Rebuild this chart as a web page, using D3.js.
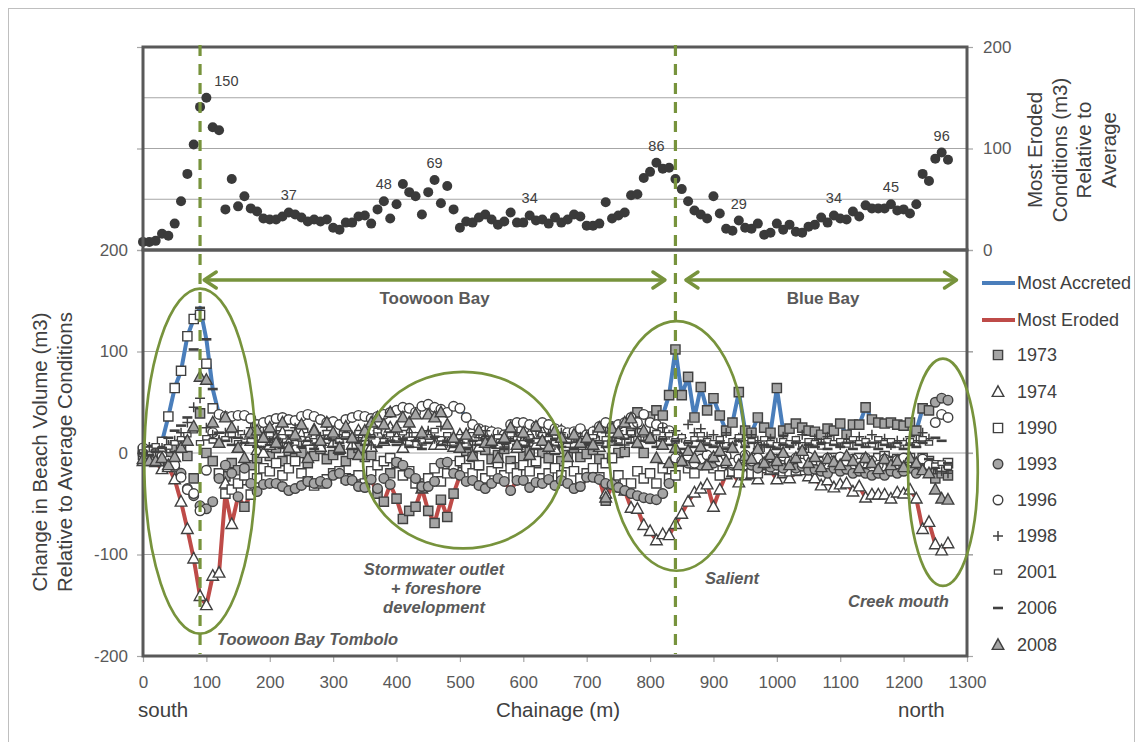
<!DOCTYPE html>
<html>
<head>
<meta charset="utf-8">
<script src="https://cdn.jsdelivr.net/npm/d3@7"></script>
<style>
  body { margin: 0; background: #fff; }
  svg { display: block; font-family: "Liberation Sans", Arial, sans-serif; }
</style>
</head>
<body>
<svg id="chart" width="1139" height="742"></svg>
<script>
// Survey stations along the beach, every 10 m from the south end
const chainage = d3.range(0, 1280, 10);

// Most eroded condition at each station (m3, magnitude relative to average)
const mostEroded = [
  8, 8, 9, 16, 14, 26, 48, 75, 104, 141,
  150, 121, 118, 40, 70, 43, 53, 41, 38, 31,
  30, 30, 33, 37, 35, 32, 28, 30, 28, 30,
  22, 20, 27, 27, 33, 34, 26, 40, 48, 31,
  45, 65, 57, 53, 35, 57, 69, 46, 63, 40,
  22, 28, 27, 32, 35, 30, 25, 28, 37, 27,
  27, 34, 29, 30, 26, 32, 27, 30, 35, 33,
  24, 24, 26, 47, 31, 34, 37, 54, 55, 71,
  77, 86, 80, 81, 70, 60, 48, 39, 35, 31,
  53, 36, 21, 19, 29, 22, 21, 26, 15, 17,
  26, 20, 25, 18, 17, 23, 25, 32, 27, 34,
  31, 30, 38, 33, 44, 41, 41, 41, 45, 39,
  40, 36, 45, 75, 68, 90, 96, 89
];

// Most accreted condition at each station (m3 relative to average)
const mostAccreted = [
  5, 6, 7, 11, 36, 64, 81, 115, 132, 143,
  112, 63, 38, 36, 36, 37, 37, 34, 28, 30,
  32, 34, 35, 33, 32, 36, 38, 36, 33, 30,
  31, 28, 33, 35, 37, 36, 34, 36, 38, 40,
  42, 45, 44, 40, 46, 48, 45, 43, 40, 46,
  44, 35, 28, 24, 22, 21, 20, 18, 28, 30,
  30, 28, 26, 30, 28, 24, 22, 20, 21, 24,
  18, 21, 26, 30, 26, 28, 30, 35, 40, 38,
  36, 42, 37, 57, 102, 57, 75, 35, 65, 42,
  54, 37, 22, 30, 60, 22, 20, 35, 25, 20,
  64, 22, 24, 29, 25, 22, 21, 18, 24, 22,
  29, 18, 28, 28, 45, 33, 30, 29, 30, 28,
  27, 30, 22, 44, 42, 50, 54, 52
];

// Change in beach volume per survey year (m3 relative to average)
const y1973 = [
  2, 3, 1, 0, -4, 6, 8, -3, -25, 39,
  0, -8, -20, -23, -10, -17, -53, -12, -5, 2,
  -3, 5, -8, 2, -5, 0, -10, -3, 4, -6,
  -2, 3, -8, -1, 5, -4, -2, -40, -48, -20,
  -45, -65, -57, -53, -30, -57, -69, -46, -63, -40,
  -10, 2, -4, -12, 3, -6, -2, 4, -8, -14,
  -3, 2, -10, 0, -5, 3, -8, -2, 5, -4,
  -1, 3, -6, -47, 12, 0, 1, 20, 40, 0,
  36, 42, 37, 57, 102, 57, 75, 35, 65, 42,
  54, 37, 22, 30, 60, 22, 20, 35, 25, 20,
  64, 22, 24, 29, 25, 22, 21, 18, 24, 22,
  29, 18, 28, 28, 45, 33, 30, 29, 30, 28,
  27, 30, 22, 44, 42, -25, -20, -22
];
const y1974 = [
  -8, -5, -9, -16, -14, -26, -48, -75, -104, -141,
  -150, -121, -118, -30, -70, 5, -27, 12, 3, 0,
  8, 15, 20, 10, 5, 18, 12, 23, 6, 14,
  10, 4, 18, 8, 22, 14, 6, 20, 12, 25,
  15, 5, 20, 10, -35, 18, 8, 8, 12, 6,
  18, 10, 24, 6, 15, 20, 9, 14, 22, 5,
  12, 18, 8, 20, 15, 4, 22, 10, 16, 8,
  14, 20, 6, -40, -31, -34, -37, -54, -55, -71,
  -77, -86, -80, -81, -70, -60, -48, -39, -35, -31,
  -53, -36, -21, -19, -29, -22, -21, -26, -15, -17,
  -26, -20, -25, -18, -17, -23, -25, -32, -27, -34,
  -31, -30, -38, -33, -44, -41, -41, -41, -45, -39,
  -40, -36, -45, -75, -68, -90, -96, -89
];
const y1990 = [
  -2, 1, 3, 11, 36, 64, 81, 115, 132, 136,
  88, 44, -20, -40, -36, -30, -22, -41, -25, -15,
  -18, -10, -22, -15, -8, -20, -28, -32, -30, -26,
  -20, -18, -25, -26, -22, -30, -18, -12, -8, -5,
  -10, -22, -18, -30, -34, -25, -15, -28, -20, -12,
  -8, -15, -20, -12, -25, -18, -10, -22, -15, -20,
  -12, -18, -8, -25, -20, -15, -22, -10, -18, -25,
  -20, -15, -24, -10, -5, -22, -30, -30, -18, -25,
  -20, -30, -15, -25, -22, -8, -15, -20, -10, -12,
  -15, -22, -10, -18, -20, -12, -20, -20, -12, -16,
  -15, -18, -18, -17, -12, -10, -15, -8, -12, -5,
  -10, -8, -12, -5, -10, -8, -5, -3, -8, -6,
  -10, -5, -12, -5, -8, -12, -15, -10
];
const y1993 = [
  0, -3, -5, -8, -10, -14, -20, -35, -42, -52,
  -55, -48, -25, -12, -20, -43, -15, -30, -38, -31,
  -30, -30, -33, -37, -35, -32, -28, -30, -28, -30,
  -22, -20, -27, -27, -33, -34, -26, -35, -25, -31,
  -9, -12, -20, -25, -33, -33, -28, -10, -9, -20,
  -22, -28, -27, -32, -35, -30, -25, -28, -37, -27,
  -27, -34, -29, -30, -26, -32, -27, -30, -35, -33,
  -24, -24, -26, -30, -31, -34, -37, -40, -42, -44,
  -45, -46, -40, -30, -9, -5, -10, -8, -12, -6,
  -10, -8, -5, -12, -10, -8, -12, -15, -10, -14,
  -12, -15, -10, -15, -13, -17, -16, -18, -20, -15,
  -18, -16, -20, -18, -20, -22, -20, -22, -18, -20,
  -18, -15, -20, -15, -18, 50, 54, 52
];
const y1996 = [
  5, 2, 0, -3, -8, -12, -24, -36, -40, -57,
  -17, 20, 38, 36, 36, 37, 37, 34, 28, 30,
  32, 34, 35, 33, 32, 36, 38, 36, 33, 30,
  31, 28, 33, 35, 37, 36, 34, 36, 38, 40,
  42, 45, 44, 40, 46, 48, 45, 43, 40, 46,
  44, 35, 28, 24, 22, 21, 20, 18, 28, 30,
  30, 28, 26, 30, 28, 24, 22, 20, 21, 24,
  18, 21, 26, 30, 26, 28, 30, 35, 30, 38,
  30, 28, 25, 22, -5, -8, -3, -10, -6, -2,
  -5, -8, -3, -10, -6, -2, -8, -5, -10, -4,
  -6, -3, -8, -5, -10, -4, -7, -9, -5, -8,
  -4, -8, -6, -10, -5, -8, -12, -6, -9, -7,
  -5, -8, -10, -6, -12, 30, 38, 35
];
const y1998 = [
  2, 6, 3, 5, 8, 12, 20, 30, 45, 54,
  25, 18, 13, 20, 15, 22, 18, 25, 12, 20,
  14, 22, 10, 18, 25, 12, 20, 8, 16, 22,
  12, 18, 24, 10, 15, 20, 8, 22, 14, 18,
  25, 12, 20, 16, 8, 22, 14, 26, 10, 18,
  12, 20, 8, 15, 22, 10, 18, 6, 14, 20,
  16, 10, 22, 12, 18, 8, 20, 14, 14, 16,
  10, 18, 12, 20, 15, 22, 8, 16, 24, 18,
  20, 12, 25, 18, 22, 15, 28, 20, 24, 16,
  18, 12, 20, 8, 15, 10, 18, 12, 6, 14,
  10, 16, 8, 12, 18, 6, 14, 10, 16, 12,
  8, 14, 10, 16, 12, 18, 10, 14, 8, 12,
  10, 16, 12, 20, 14, -15, -18, -20
];
const y2001 = [
  1, -1, 7, 4, 6, 10, 14, 18, 22, 10,
  15, 12, 8, 14, 18, 10, 16, 12, 20, 14,
  18, 12, 16, 20, 10, 14, 18, 12, 15, 20,
  16, 12, 18, 14, 20, 10, 16, 22, 12, 18,
  14, 20, 10, 18, 12, 16, 22, 14, 18, 10,
  16, 12, 18, 10, 14, 8, 16, 12, 18, 14,
  10, 16, 12, 18, 14, 10, 16, 12, 8, 14,
  12, 16, 10, 14, 18, 12, 16, 20, 14, 18,
  16, 20, 14, 18, 12, 16, 10, 14, 18, 12,
  10, 14, 8, 12, 16, 10, 12, 8, 14, 10,
  8, 12, 10, 14, 8, 12, 10, 6, 12, 10,
  12, 8, 14, 10, 12, 8, 14, 10, 12, 8,
  10, 12, 8, 14, 10, -12, -10, -14
];
const y2006 = [
  0, -2, 1, 5, 15, 22, 27, 35, 102, 143,
  112, 63, 20, 12, 8, 15, 10, 18, 6, 12,
  8, 14, 5, 10, 16, 6, 12, 4, 10, 14,
  6, 10, 14, 4, 12, 8, 16, 6, 10, 12,
  8, 14, 6, 12, 4, 10, 16, 8, 12, 6,
  10, 4, 12, 8, 14, 6, 10, 4, 12, 8,
  6, 12, 4, 10, 8, 14, 6, 10, 4, 12,
  8, 4, 10, 6, 12, 8, 14, 10, 6, 12,
  10, 6, 14, 8, 12, 4, 10, 6, 12, 8,
  6, 10, 4, 8, 12, 6, 10, 4, 8, 6,
  4, 8, 6, 10, 4, 8, 6, 10, 4, 8,
  6, 10, 4, 8, 6, 10, 4, 8, 6, 10,
  4, 8, 6, 10, -6, 15, 12, -10
];
const y2008 = [
  -6, -8, -8, -5, -12, -4, 5, 12, 26, 75,
  72, 30, 10, 35, 25, 5, -5, 20, 22, 15,
  25, 10, 30, 5, 18, 28, -5, 22, 12, 30,
  20, 5, 26, 15, -2, 22, 30, 35, 28, 40,
  25, 35, 30, 38, 20, 38, 35, 40, 28, 15,
  5, 18, -3, 22, 10, 12, -5, 15, 25, 8,
  20, -2, 26, 12, 6, 22, 15, -4, 18, 10,
  15, 8, 25, -44, 24, 20, 30, 34, 10, 22,
  15, -5, 8, -10, 5, -8, 2, -5, 6, -12,
  -4, 2, -8, 5, -12, -3, -6, 4, -10, -2,
  -8, 0, -12, -5, 2, -10, -4, -14, -6, -9,
  -12, -3, -8, -15, -5, -10, -16, -6, -12, -8,
  -14, -5, -10, -17, -20, -36, -45, -46
];

// Stations whose most-eroded value is printed in the upper panel
const labelledStations = [100, 230, 380, 460, 610, 810, 940, 1090, 1180, 1260];

// Axis ticks
const xTicks = [0, 100, 200, 300, 400, 500, 600, 700, 800, 900, 1000, 1100, 1200, 1300];
const lowerTicks = [-200, -100, 0, 100, 200];
const upperTicks = [0, 100, 200];
const upperGrid = [50, 100, 150];
const lowerGrid = [-100, 0, 100];

// Coastal features: boundary chainages and annotated zones (chainage / volume units)
const boundaries = [90, 840];
const bays = [
  { name: "Toowoon Bay", from: 95, to: 825, mid: 460 },
  { name: "Blue Bay", from: 855, to: 1285, mid: 1073 }
];
const zones = [
  { c: 90, v: -8, rc: 88, rv: 170 },
  { c: 505, v: -7, rc: 158, rv: 87 },
  { c: 842, v: 7, rc: 107, rv: 123 },
  { c: 1262, v: -19, rc: 55, rv: 112 }
];

// ---------------------------------------------------------------
const svg = d3.select("#chart");
const GREEN = "#77933c", FRAME = "#595959", GRID = "#a6a6a6", TXT = "#595959";
const MK = "#404040", GREY = "#a5a5a5";
const plain = d => String(d).replace("\u2212", "-");

const x = d3.scaleLinear().domain([0, 1300]).range([143, 967]);
const yTop = d3.scaleLinear().domain([0, 200]).range([250, 47]);
const yBot = d3.scaleLinear().domain([-200, 200]).range([656, 250]);

// outer figure border
svg.append("rect").attr("x", 8.5).attr("y", 8.5).attr("width", 1126).attr("height", 760)
  .attr("fill", "none").attr("stroke", "#bfbfbf").attr("stroke-width", 1);

// gridlines
svg.append("g").selectAll("line").data(upperGrid).join("line")
  .attr("x1", x(0)).attr("x2", x(1300))
  .attr("y1", d => yTop(d)).attr("y2", d => yTop(d))
  .attr("stroke", GRID).attr("stroke-width", 1.2);
svg.append("g").selectAll("line").data(lowerGrid).join("line")
  .attr("x1", x(0)).attr("x2", x(1300) + 6)
  .attr("y1", d => yBot(d)).attr("y2", d => yBot(d))
  .attr("stroke", GRID).attr("stroke-width", 1.2);

// axes
const axX = d3.axisBottom(x).tickValues(xTicks).tickSize(6).tickFormat(plain);
const gx = svg.append("g").attr("transform", `translate(0,${yBot(-200)})`).call(axX);
const axL = d3.axisLeft(yBot).tickValues(lowerTicks).tickSize(6).tickFormat(plain);
const gl = svg.append("g").attr("transform", `translate(${x(0)},0)`).call(axL);
const axLt = d3.axisLeft(yTop).tickValues(upperTicks).tickSize(6).tickFormat("");
const glt = svg.append("g").attr("transform", `translate(${x(0)},0)`).call(axLt);
const axR = d3.axisRight(yTop).tickValues(upperTicks).tickSize(6).tickPadding(10).tickFormat(plain);
const gr = svg.append("g").attr("transform", `translate(${x(1300)},0)`).call(axR);
const axRb = d3.axisRight(yBot).tickValues(lowerTicks).tickSize(6).tickFormat("");
const grb = svg.append("g").attr("transform", `translate(${x(1300)},0)`).call(axRb);
[gx, gl, glt, gr, grb].forEach(g => {
  g.select(".domain").remove();
  g.selectAll(".tick line").attr("stroke", "#a6a6a6").attr("stroke-width", 1.2);
  g.selectAll("text").attr("fill", TXT).style("font-size", "17px")
    .style("font-family", '"Liberation Sans", Arial, sans-serif');
});
gx.selectAll("text").attr("dy", "1.35em");
gl.selectAll("text").attr("x", -15);

// lines: most accreted / most eroded
const lineGen = d3.line().x((d, i) => x(chainage[i])).y(d => yBot(d));
svg.append("path").datum(mostAccreted).attr("d", lineGen)
  .attr("fill", "none").attr("stroke", "#4a7ebb").attr("stroke-width", 4).attr("stroke-linejoin", "round");
svg.append("path").datum(mostEroded.map(v => -v)).attr("d", lineGen)
  .attr("fill", "none").attr("stroke", "#be4b48").attr("stroke-width", 4).attr("stroke-linejoin", "round");

// marker shapes
const shapes = {
  sqFill:  { d: "M-4.6,-4.6h9.2v9.2h-9.2z", fill: GREY, sw: 1.4 },
  triOpen: { d: "M0,-6.2L5.8,4.4H-5.8Z", fill: "#fff", sw: 1.4 },
  sqOpen:  { d: "M-4.6,-4.6h9.2v9.2h-9.2z", fill: "#fff", sw: 1.4 },
  cirFill: { circle: 4.8, fill: GREY, sw: 1.4 },
  cirOpen: { circle: 4.8, fill: "#fff", sw: 1.4 },
  plus:    { d: "M-5,0H5M0,-5V5", fill: "none", sw: 1.5 },
  rect:    { d: "M-3.6,-2.2h7.2v4.4h-7.2z", fill: "#fff", sw: 1.3 },
  dash:    { d: "M-5,0H5", fill: "none", sw: 2.6 },
  triFill: { d: "M0,-6.2L5.8,4.4H-5.8Z", fill: GREY, sw: 1.4 }
};
function drawMarker(sel, key) {
  const s = shapes[key];
  if (s.circle) {
    sel.append("circle").attr("r", s.circle).attr("fill", s.fill).attr("stroke", MK).attr("stroke-width", s.sw);
  } else {
    sel.append("path").attr("d", s.d).attr("fill", s.fill).attr("stroke", MK).attr("stroke-width", s.sw);
  }
}

const years = [
  { name: "1973", values: y1973, shape: "sqFill" },
  { name: "1974", values: y1974, shape: "triOpen" },
  { name: "1990", values: y1990, shape: "sqOpen" },
  { name: "1993", values: y1993, shape: "cirFill" },
  { name: "1996", values: y1996, shape: "cirOpen" },
  { name: "1998", values: y1998, shape: "plus" },
  { name: "2001", values: y2001, shape: "rect" },
  { name: "2006", values: y2006, shape: "dash" },
  { name: "2008", values: y2008, shape: "triFill" }
];
years.forEach(s => {
  const g = svg.append("g");
  g.selectAll("g").data(s.values).join("g")
    .attr("transform", (d, i) => `translate(${x(chainage[i])},${yBot(d)})`)
    .each(function () { drawMarker(d3.select(this), s.shape); });
});

// upper panel: most eroded magnitude
svg.append("g").selectAll("circle").data(mostEroded).join("circle")
  .attr("cx", (d, i) => x(chainage[i])).attr("cy", d => yTop(d)).attr("r", 5)
  .attr("fill", "#3a3a3a");
svg.append("g").selectAll("text").data(labelledStations).join("text")
  .attr("x", c => x(c) + (c === 100 ? 20 : 0))
  .attr("y", c => yTop(mostEroded[chainage.indexOf(c)]) - 12)
  .attr("text-anchor", "middle").attr("fill", "#404040").style("font-size", "14.5px")
  .text(c => mostEroded[chainage.indexOf(c)]);

// frames
const frame = svg.append("g").attr("fill", "none").attr("stroke", FRAME).attr("stroke-width", 3);
frame.append("rect").attr("x", x(0)).attr("y", yTop(200)).attr("width", x(1300) - x(0)).attr("height", yTop(0) - yTop(200));
frame.append("rect").attr("x", x(0)).attr("y", yBot(200)).attr("width", x(1300) - x(0)).attr("height", yBot(-200) - yBot(200));

// zone ellipses
svg.append("g").selectAll("ellipse").data(zones).join("ellipse")
  .attr("cx", d => x(d.c)).attr("cy", d => yBot(d.v))
  .attr("rx", d => x(d.rc) - x(0)).attr("ry", d => yBot(0) - yBot(d.rv))
  .attr("fill", "none").attr("stroke", GREEN).attr("stroke-width", 2.7);

// boundary dashed lines
svg.append("g").selectAll("line").data(boundaries).join("line")
  .attr("x1", d => x(d)).attr("x2", d => x(d)).attr("y1", 45).attr("y2", yBot(-198))
  .attr("stroke", GREEN).attr("stroke-width", 3.2).attr("stroke-dasharray", "11,8");

// bay extent arrows
const arrowY = 280;
const ag = svg.append("g").attr("fill", "none").attr("stroke", GREEN).attr("stroke-width", 3.5)
  .attr("stroke-linecap", "round").attr("stroke-linejoin", "round");
bays.forEach(b => {
  const x1 = x(b.from), x2 = x(b.to);
  ag.append("line").attr("x1", x1 + 2).attr("x2", x2 - 2).attr("y1", arrowY).attr("y2", arrowY);
  ag.append("path").attr("d", `M${x1 + 13},${arrowY - 8}L${x1 + 1},${arrowY}L${x1 + 13},${arrowY + 8}`);
  ag.append("path").attr("d", `M${x2 - 13},${arrowY - 8}L${x2 - 1},${arrowY}L${x2 - 13},${arrowY + 8}`);
  svg.append("text").attr("x", x(b.mid)).attr("y", 304).attr("text-anchor", "middle")
    .attr("fill", TXT).style("font-size", "17px").style("font-weight", "bold").text(b.name);
});

// zone annotations
const note = (tx, ty, str, anchor) => svg.append("text").attr("x", tx).attr("y", ty)
  .attr("text-anchor", anchor || "start").attr("fill", TXT)
  .style("font-size", "16.5px").style("font-weight", "bold").style("font-style", "italic").text(str);
note(217, 645, "Toowoon Bay Tombolo");
note(434, 575, "Stormwater outlet", "middle");
note(436, 594, "+ foreshore", "middle");
note(434, 613, "development", "middle");
note(705, 584, "Salient");
note(848, 607, "Creek mouth");

// axis titles
svg.append("text").attr("x", 558).attr("y", 717).attr("text-anchor", "middle")
  .attr("fill", "#404040").style("font-size", "20.5px").text("Chainage (m)");
svg.append("text").attr("x", 138).attr("y", 717).attr("fill", "#404040").style("font-size", "20.5px").text("south");
svg.append("text").attr("x", 898).attr("y", 717).attr("fill", "#404040").style("font-size", "20.5px").text("north");

const yl = svg.append("text").attr("transform", "translate(40,452) rotate(-90)")
  .attr("text-anchor", "middle").attr("fill", "#404040").style("font-size", "20.5px");
yl.append("tspan").attr("x", 0).attr("dy", "0.35em").text("Change in Beach Volume (m3)");
yl.append("tspan").attr("x", 0).attr("dy", "1.2em").text("Relative to Average Conditions");

const yr = svg.append("text").attr("transform", "translate(1035,150) rotate(-90)")
  .attr("text-anchor", "middle").attr("fill", "#404040").style("font-size", "20.5px");
yr.append("tspan").attr("x", 0).attr("dy", "0.35em").text("Most Eroded");
yr.append("tspan").attr("x", 0).attr("dy", "1.2em").text("Conditions (m3)");
yr.append("tspan").attr("x", 0).attr("dy", "1.2em").text("Relative to");
yr.append("tspan").attr("x", 0).attr("dy", "1.2em").text("Average");

// legend
const legendItems = [
  { name: "Most Accreted", line: "#4a7ebb" },
  { name: "Most Eroded", line: "#be4b48" }
].concat(years.map(s => ({ name: s.name, shape: s.shape })));
const legendY = [283, 320, 355, 392, 428, 464, 500, 536, 572, 608, 645];
const lg = svg.append("g");
legendItems.forEach((it, i) => {
  const g = lg.append("g").attr("transform", `translate(998,${legendY[i]})`);
  if (it.line) {
    g.append("line").attr("x1", -16).attr("x2", 17).attr("stroke", it.line).attr("stroke-width", 4);
  } else {
    drawMarker(g, it.shape);
  }
  g.append("text").attr("x", 19).attr("dy", "0.35em").attr("fill", "#404040")
    .style("font-size", "18px").text(it.name);
});
</script>
</body>
</html>
